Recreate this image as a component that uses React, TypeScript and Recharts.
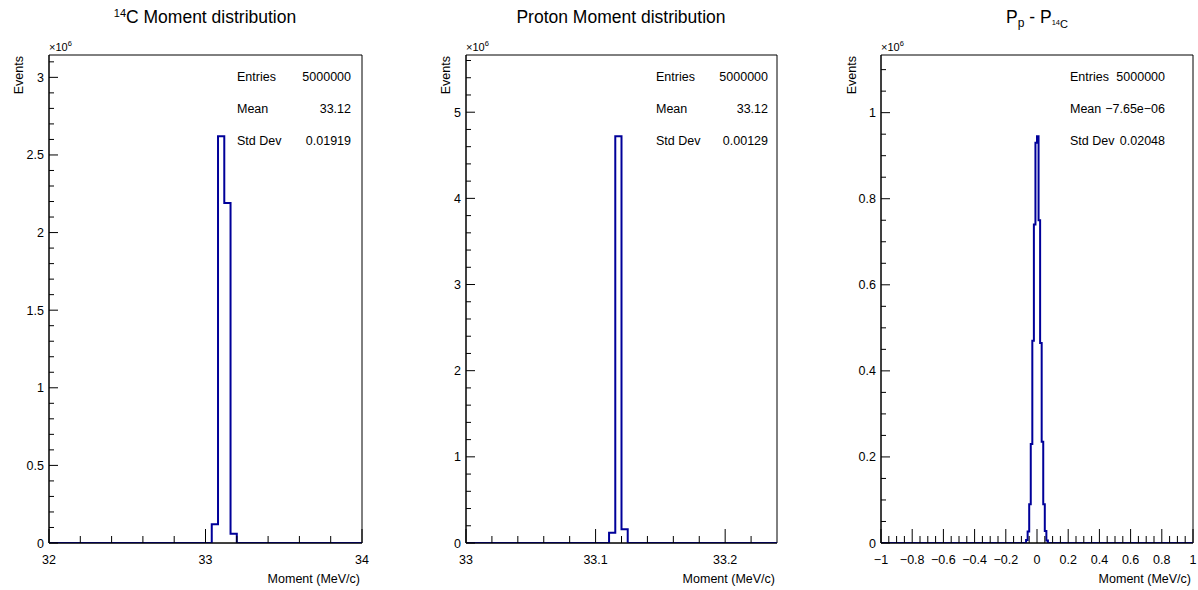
import React from 'react';
import { ComposedChart, Line, XAxis, YAxis, ReferenceArea } from 'recharts';

// bin counts are in units of 10^6 events
const c14Edges = [33.04, 33.08, 33.12, 33.16, 33.2];
const c14Counts = [0.12, 2.62, 2.19, 0.06];
const c14XMajor = [32, 33, 34];
const c14YMajor = [0, 0.5, 1, 1.5, 2, 2.5, 3];

const protonEdges = [33.1104, 33.1152, 33.12, 33.1248];
const protonCounts = [0.12, 4.72, 0.16];
const protonXMajor = [33, 33.1, 33.2];
const protonYMajor = [0, 1, 2, 3, 4, 5];

const diffEdges = [-0.07, -0.06, -0.05, -0.04, -0.03, -0.02, -0.01, 0, 0.01, 0.02, 0.03, 0.04, 0.05, 0.06, 0.07];
const diffCounts = [0.007, 0.027, 0.09, 0.23, 0.47, 0.74, 0.93, 0.945, 0.75, 0.465, 0.235, 0.09, 0.028, 0.006];
const diffXMajor = [-1, -0.8, -0.6, -0.4, -0.2, 0, 0.2, 0.4, 0.6, 0.8, 1];
const diffYMajor = [0, 0.2, 0.4, 0.6, 0.8, 1];

const stats = [
  { entries: '5000000', mean: '33.12', std: '0.01919' },
  { entries: '5000000', mean: '33.12', std: '0.00129' },
  { entries: '5000000', mean: '\u22127.65e\u221206', std: '0.02048' },
];

const FONT = '"Liberation Sans", Arial, Helvetica, sans-serif';
const LINE = '#000099';

const steps = (lo: number, hi: number, step: number) => {
  const n = Math.round((hi - lo) / step);
  return Array.from({ length: n + 1 }, (_, i) => +(lo + i * step).toFixed(6));
};

const histData = (lo: number, hi: number, edges: number[], counts: number[]) => [
  { x: lo, y: 0 },
  ...counts.map((c, i) => ({ x: edges[i], y: c })),
  { x: edges[edges.length - 1], y: 0 },
  { x: hi, y: 0 },
];

const fmt = (v: number) => (v < 0 ? '\u2212' + String(-v) : String(v));
const isMajor = (majors: number[], v: number) => majors.some((m) => Math.abs(m - v) < 1e-7);

const XTick = (props: any) => {
  const { x, y, payload, majors } = props;
  const major = isMajor(majors, payload.value);
  return (
    <g>
      <line x1={x} x2={x} y1={y} y2={y - (major ? 14 : 7)} stroke="#000" />
      {major && (
        <text x={x} y={y + 21} textAnchor="middle" fontSize={12.5} fontFamily={FONT} fill="#000">
          {fmt(payload.value)}
        </text>
      )}
    </g>
  );
};

const YTick = (props: any) => {
  const { x, y, payload, majors } = props;
  const major = isMajor(majors, payload.value);
  return (
    <g>
      <line x1={x} x2={x + (major ? 9 : 5)} y1={y} y2={y} stroke="#000" />
      {major && (
        <text x={x - 5} y={y + 4.5} textAnchor="end" fontSize={12.5} fontFamily={FONT} fill="#000">
          {fmt(payload.value)}
        </text>
      )}
    </g>
  );
};

const panels = [
  {
    left: 0, width: 400, plotL: 49, plotR: 362, xLo: 32, xHi: 34, yHi: 3.144,
    data: histData(32, 34, c14Edges, c14Counts),
    xTicks: steps(32, 34, 0.2), xMajor: c14XMajor,
    yTicks: steps(0, 3.1, 0.1), yMajor: c14YMajor,
    eventsX: 22.5, statL: 237, statR: 351,
  },
  {
    left: 400, width: 400, plotL: 466, plotR: 777, xLo: 33, xHi: 33.24, yHi: 5.664,
    data: histData(33, 33.24, protonEdges, protonCounts),
    xTicks: steps(33, 33.22, 0.02), xMajor: protonXMajor,
    yTicks: steps(0, 5.6, 0.2), yMajor: protonYMajor,
    eventsX: 449.5, statL: 656, statR: 768,
  },
  {
    left: 800, width: 398, plotL: 881, plotR: 1193, xLo: -1, xHi: 1, yHi: 1.134,
    data: histData(-1, 1, diffEdges, diffCounts),
    xTicks: steps(-1, 1, 0.05), xMajor: diffXMajor,
    yTicks: steps(0, 1.1, 0.05), yMajor: diffYMajor,
    eventsX: 855.5, statL: 1070, statR: 1165,
  },
];

const TOP = 55;
const BOTTOM = 543;
const H = 590;

export default function App() {
  return (
    <div style={{ position: 'absolute', left: 0, top: 0, width: 1198, height: H, background: '#fff', overflow: 'hidden' }}>
      {panels.map((p, i) => (
        <div key={i} style={{ position: 'absolute', left: p.left, top: 0 }}>
          <ComposedChart
            width={p.width}
            height={H}
            data={p.data}
            style={{ overflow: 'visible' }}
            margin={{ top: TOP, bottom: H - BOTTOM - 1, left: p.plotL - p.left - 1, right: p.left + p.width - p.plotR }}
          >
            <XAxis
              dataKey="x"
              type="number"
              domain={[p.xLo, p.xHi]}
              allowDataOverflow
              ticks={p.xTicks}
              interval={0}
              height={1}
              tickSize={0}
              tickMargin={0}
              tickLine={false}
              axisLine={{ stroke: '#000' }}
              tick={<XTick majors={p.xMajor} />}
            />
            <YAxis
              type="number"
              domain={[0, p.yHi]}
              allowDataOverflow
              ticks={p.yTicks}
              interval={0}
              width={1}
              tickSize={0}
              tickMargin={0}
              tickLine={false}
              axisLine={{ stroke: '#000' }}
              tick={<YTick majors={p.yMajor} />}
            />
            <ReferenceArea x1={p.xLo} x2={p.xHi} y1={0} y2={p.yHi} fill="none" stroke="#000" strokeWidth={1} ifOverflow="visible" />
            <Line
              type="stepAfter"
              dataKey="y"
              stroke={LINE}
              strokeWidth={2}
              dot={false}
              activeDot={false}
              isAnimationActive={false}
            />
          </ComposedChart>
        </div>
      ))}
      <svg width={1198} height={H} style={{ position: 'absolute', left: 0, top: 0, pointerEvents: 'none' }} fontFamily={FONT} fill="#000">
        {/* titles */}
        <text x={205} y={23} textAnchor="middle" fontSize={17.5}>
          <tspan fontSize={11} dy={-6}>14</tspan>
          <tspan dy={6}>C Moment distribution</tspan>
        </text>
        <text x={621} y={23} textAnchor="middle" fontSize={17.5}>Proton Moment distribution</text>
        <text x={1037} y={23} textAnchor="middle" fontSize={17.5}>
          <tspan>P</tspan>
          <tspan fontSize={12} dy={4}>p</tspan>
          <tspan dy={-4}> - P</tspan>
          <tspan fontSize={7.5} dy={2}>14</tspan>
          <tspan fontSize={11} dy={3}>C</tspan>
        </text>
        {panels.map((p, i) => (
          <g key={i}>
            <text x={p.plotL} y={51} fontSize={11}>
              <tspan>{'\u00d710'}</tspan>
              <tspan fontSize={7.5} dy={-5}>6</tspan>
            </text>
            <text x={p.eventsX} y={56} fontSize={12.5} textAnchor="end" transform={`rotate(-90 ${p.eventsX} 56)`}>Events</text>
            <text x={p.plotR - 2} y={583} fontSize={12.5} textAnchor="end">Moment (MeV/c)</text>
            <text x={p.statL} y={80.5} fontSize={12.5}>Entries</text>
            <text x={p.statR} y={80.5} fontSize={12.5} textAnchor="end">{stats[i].entries}</text>
            <text x={p.statL} y={112.5} fontSize={12.5}>Mean</text>
            <text x={p.statR} y={112.5} fontSize={12.5} textAnchor="end">{stats[i].mean}</text>
            <text x={p.statL} y={144.5} fontSize={12.5}>Std Dev</text>
            <text x={p.statR} y={144.5} fontSize={12.5} textAnchor="end">{stats[i].std}</text>
          </g>
        ))}
      </svg>
    </div>
  );
}
